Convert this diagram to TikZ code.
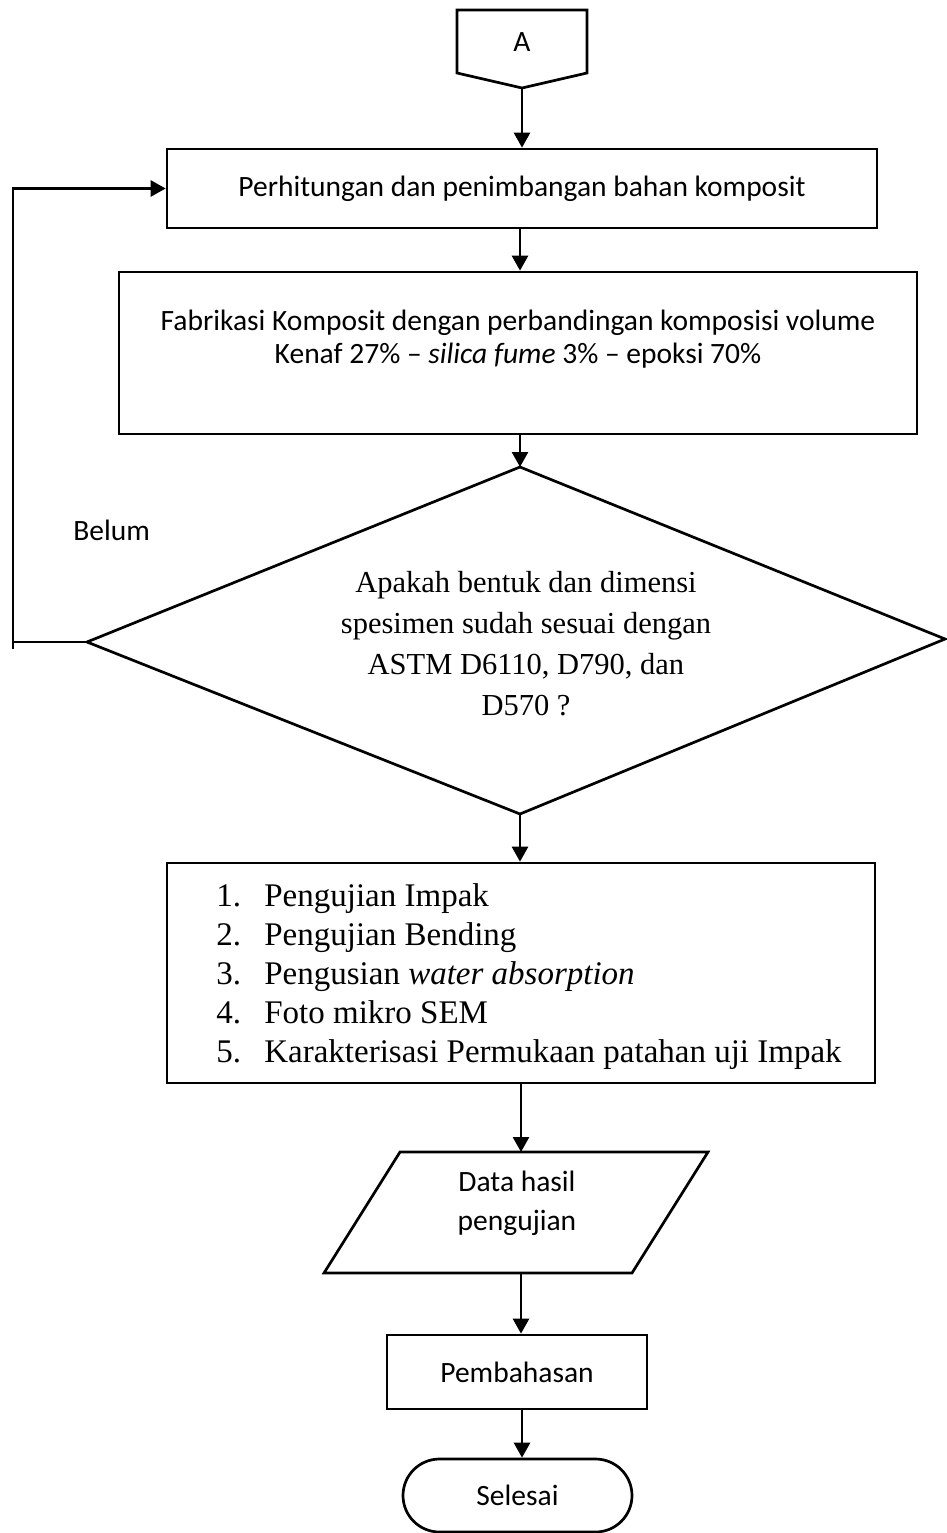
\documentclass[tikz,border=0pt]{standalone}
\usepackage{fontspec}
\setmainfont{Liberation Serif}
\newfontfamily\calib{Carlito}
\usetikzlibrary{arrows.meta,shapes.misc}
\begin{document}
\begin{tikzpicture}[x=1pt,y=-1pt,
  line width=2.7pt,
  arr/.style={-{Triangle[length=15pt,width=16pt]}},
  box/.style={draw,rectangle,inner sep=0pt},
  ctext/.style={font=\fontsize{29.5}{33}\selectfont\calib, align=center, inner sep=0pt},
  ttext/.style={font=\fontsize{30.5}{41}\selectfont, align=center, inner sep=0pt},
  ltext/.style={font=\fontsize{33}{36}\selectfont, inner sep=0pt, anchor=base west},
]
\useasboundingbox (0,0) rectangle (946,1533);

% off-page connector A
\coordinate (a1) at (457,10);
\coordinate (a2) at (587,10);
\coordinate (a3) at (587,73);
\coordinate (ap) at (522,88);
\coordinate (a5) at (457,73);
\draw[line join=miter] (a1) -- (a2) -- (a3) -- (ap) -- (a5) -- cycle;
\node[ctext] (A) at (522,42) {A};

% box 1
\node[box,ctext,minimum width=710pt,minimum height=79pt] (r1) at (522,188.5)
  {Perhitungan dan penimbangan bahan komposit};

% box 2
\node[box,minimum width=798pt,minimum height=162pt] (r2) at (518,353) {};
\node[ctext] (r2t) at (518,339)
  {Fabrikasi Komposit dengan perbandingan komposisi volume\\
   Kenaf 27\% – \textit{silica fume} 3\% – epoksi 70\%};

% decision
\coordinate (dt) at (520,467);
\coordinate (dr) at (945,639);
\coordinate (db) at (520,814);
\coordinate (dl) at (87,642);
\draw[line join=miter] (dt) -- (dr) -- (db) -- (dl) -- cycle;
\node[ttext] (dq) at (526,643.5)
  {Apakah bentuk dan dimensi\\ spesimen sudah sesuai dengan\\ ASTM D6110, D790, dan\\ D570 ?};

% feedback
\coordinate (fb1) at (13,649);
\coordinate (fb2) at (13,188.5);
\draw (dl) -- (dl -| fb1);
\draw[arr] (fb1) -- (fb2) -- (fb2 -| r1.west);
\node[ctext,anchor=west] (belum) at (72,530) {Belum};

% box 3 list
\node[box,minimum width=708pt,minimum height=220pt] (r3) at (521,973) {};
\node[ltext] (n1) at (215,906) {1.};
\node[ltext] (t1) at (263,906) {Pengujian Impak};
\node[ltext] (n2) at (215,945) {2.};
\node[ltext] (t2) at (263,945) {Pengujian Bending};
\node[ltext] (n3) at (215,984) {3.};
\node[ltext] (t3) at (263,984) {Pengusian \textit{water absorption}};
\node[ltext] (n4) at (215,1023) {4.};
\node[ltext] (t4) at (263,1023) {Foto mikro SEM};
\node[ltext] (n5) at (215,1062) {5.};
\node[ltext] (t5) at (263,1062) {Karakterisasi Permukaan patahan uji Impak};

% data (parallelogram)
\coordinate (p1) at (400,1152);
\coordinate (p2) at (708,1152);
\coordinate (p3) at (632,1273);
\coordinate (p4) at (324,1273);
\draw[line join=miter] (p1) -- (p2) -- (p3) -- (p4) -- cycle;
\node[ctext,font=\fontsize{29.5}{39}\selectfont\calib] (dat) at (517,1203) {Data hasil\\ pengujian};

% pembahasan
\node[box,ctext,minimum width=260pt,minimum height=74pt] (r4) at (517,1372) {Pembahasan};

% terminator
\node[draw,rounded rectangle,ctext,minimum width=229pt,minimum height=73pt] (end) at (517.5,1495.5) {Selesai};

% arrows
\draw[arr] (ap) -- (ap |- r1.north);
\draw[arr] (r1.south -| 520,0) -- (r2.north -| 520,0);
\draw[arr] (r2.south -| dt) -- (dt);
\draw[arr] (db) -- (db |- r3.north);
\coordinate (px) at (521,1152);
\draw[arr] (r3.south -| px) -- (px);
\draw[arr] (p3 -| px) -- (r4.north -| px);
\draw[arr] (r4.south -| ap) -- (end.north -| ap);
\end{tikzpicture}
\end{document}
